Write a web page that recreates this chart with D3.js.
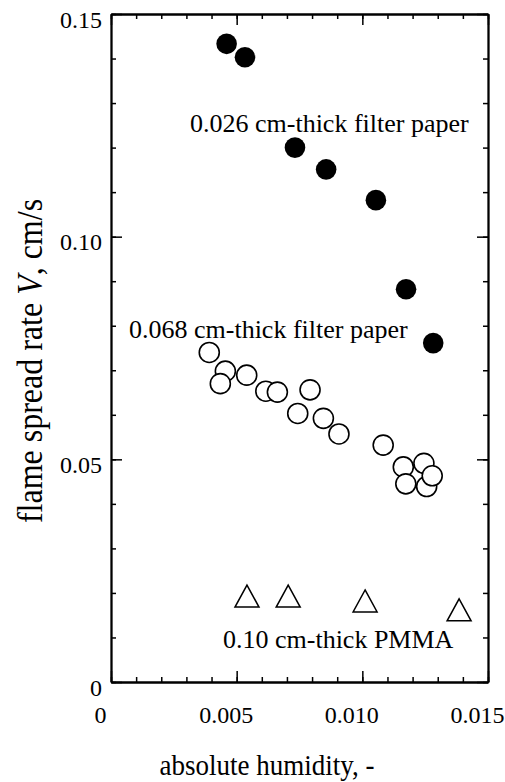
<!DOCTYPE html>
<html>
<head>
    <title>Flame spread rate vs absolute humidity</title>
    <script src="https://d3js.org/d3.v7.min.js"></script>
    <style>
        body { margin: 0; background: #fff; }
        text { font-family: "Liberation Serif", "Times New Roman", serif; fill: #000; }
    </style>
</head>
<body>
    <svg width="505" height="782"></svg>
    <script>
        // Data
        // 0.026 cm-thick filter paper (filled circles)
        const paper026X = [0.00460, 0.00533, 0.00732, 0.00856, 0.01054, 0.01174, 0.01282];
        const paper026Y = [0.1433, 0.1403, 0.1200, 0.1151, 0.1082, 0.0882, 0.0761];

        // 0.068 cm-thick filter paper (open circles)
        const paper068X = [0.00391, 0.00455, 0.00435, 0.00540, 0.00616, 0.00662, 0.00792, 0.00743,
                           0.00845, 0.00907, 0.01083, 0.01163, 0.01173, 0.01245, 0.01256, 0.01278];
        const paper068Y = [0.0740, 0.0698, 0.0670, 0.0689, 0.0653, 0.0651, 0.0656, 0.0603,
                           0.0592, 0.0557, 0.0532, 0.0483, 0.0445, 0.0491, 0.0439, 0.0463];

        // 0.10 cm-thick PMMA (open triangles)
        const pmmaX = [0.00541, 0.00705, 0.01011, 0.01385];
        const pmmaY = [0.0193, 0.0193, 0.0182, 0.0162];

        // Tick values and labels
        const xMajor = [0, 0.005, 0.010, 0.015];
        const xTickLabels = ["0", "0.005", "0.010", "0.015"];
        const yMajor = [0, 0.05, 0.10, 0.15];
        const yTickLabels = ["0", "0.05", "0.10", "0.15"];
        const xMinor = d3.range(0, 16).map(i => i * 0.001);
        const yMinor = d3.range(0, 16).map(i => i * 0.01);

        const svg = d3.select("svg");
        svg.append("rect").attr("width", 505).attr("height", 782).attr("fill", "#fff");

        // Scales
        const x = d3.scaleLinear().domain([0, 0.015]).range([111, 488]);
        const y = d3.scaleLinear().domain([0, 0.15]).range([682, 14]);

        const major = 11, minor = 5;

        // Helper to draw an axis group
        function drawAxis(axis, tx, ty) {
            const g = svg.append("g")
                .attr("transform", `translate(${tx},${ty})`)
                .call(axis);
            g.selectAll("line").attr("stroke", "#000").attr("stroke-width", 1.5);
            g.select(".domain").attr("stroke", "#000").attr("stroke-width", 1.8);
            return g;
        }

        // Minor ticks on all four sides
        drawAxis(d3.axisBottom(x).tickValues(xMinor).tickSize(-minor).tickSizeOuter(0).tickFormat(""), 0, y(0));
        drawAxis(d3.axisTop(x).tickValues(xMinor).tickSize(-minor).tickSizeOuter(0).tickFormat(""), 0, y(0.15));
        drawAxis(d3.axisLeft(y).tickValues(yMinor).tickSize(-minor).tickSizeOuter(0).tickFormat(""), x(0), 0);
        drawAxis(d3.axisRight(y).tickValues(yMinor).tickSize(-minor).tickSizeOuter(0).tickFormat(""), x(0.015), 0);

        // Major ticks
        const xAxis = drawAxis(d3.axisBottom(x).tickValues(xMajor).tickSize(-major).tickSizeOuter(0)
            .tickPadding(24).tickFormat((d, i) => xTickLabels[i]), 0, y(0));
        drawAxis(d3.axisTop(x).tickValues(xMajor).tickSize(-major).tickSizeOuter(0).tickFormat(""), 0, y(0.15));
        const yAxis = drawAxis(d3.axisLeft(y).tickValues(yMajor).tickSize(-major).tickSizeOuter(0)
            .tickPadding(9).tickFormat((d, i) => yTickLabels[i]), x(0), 0);
        drawAxis(d3.axisRight(y).tickValues(yMajor).tickSize(-major).tickSizeOuter(0).tickFormat(""), x(0.015), 0);

        xAxis.selectAll("text")
            .attr("font-size", 24)
            .attr("font-family", "Liberation Serif")
            .attr("dx", -11);
        yAxis.selectAll("text")
            .attr("font-size", 24)
            .attr("font-family", "Liberation Serif")
            .attr("dy", "0.55em");

        // Filled circles
        svg.append("g").selectAll("circle")
            .data(d3.zip(paper026X, paper026Y))
            .join("circle")
            .attr("cx", d => x(d[0]))
            .attr("cy", d => y(d[1]))
            .attr("r", 10.3)
            .attr("fill", "#000");

        // Open circles
        svg.append("g").selectAll("circle")
            .data(d3.zip(paper068X, paper068Y))
            .join("circle")
            .attr("cx", d => x(d[0]))
            .attr("cy", d => y(d[1]))
            .attr("r", 10)
            .attr("fill", "#fff")
            .attr("stroke", "#000")
            .attr("stroke-width", 1.6);

        // Open triangles
        const triW = 24, triH = 22;
        svg.append("g").selectAll("path")
            .data(d3.zip(pmmaX, pmmaY))
            .join("path")
            .attr("d", d => {
                const cx = x(d[0]), cy = y(d[1]);
                return `M${cx},${cy - triH / 2}L${cx + triW / 2},${cy + triH / 2}L${cx - triW / 2},${cy + triH / 2}Z`;
            })
            .attr("fill", "none")
            .attr("stroke", "#000")
            .attr("stroke-width", 1.5);

        // Annotations
        const notes = [
            {text: "0.026 cm-thick filter paper", x: 190, y: 132},
            {text: "0.068 cm-thick filter paper", x: 129, y: 338},
            {text: "0.10 cm-thick PMMA", x: 223, y: 648}
        ];
        svg.append("g").selectAll("text")
            .data(notes)
            .join("text")
            .attr("x", d => d.x)
            .attr("y", d => d.y)
            .attr("font-size", 26)
            .text(d => d.text);

        // Axis titles
        svg.append("text")
            .attr("transform", "translate(267,775) scale(0.9,1)")
            .attr("text-anchor", "middle")
            .attr("font-size", 30)
            .text("absolute humidity, -");

        const yTitle = svg.append("text")
            .attr("transform", "translate(42,361) rotate(-90) scale(1,1.15)")
            .attr("text-anchor", "middle")
            .attr("font-size", 32);
        yTitle.append("tspan").text("flame spread rate ");
        yTitle.append("tspan").attr("font-style", "italic").text("V");
        yTitle.append("tspan").text(", cm/s");
    </script>
</body>
</html>
